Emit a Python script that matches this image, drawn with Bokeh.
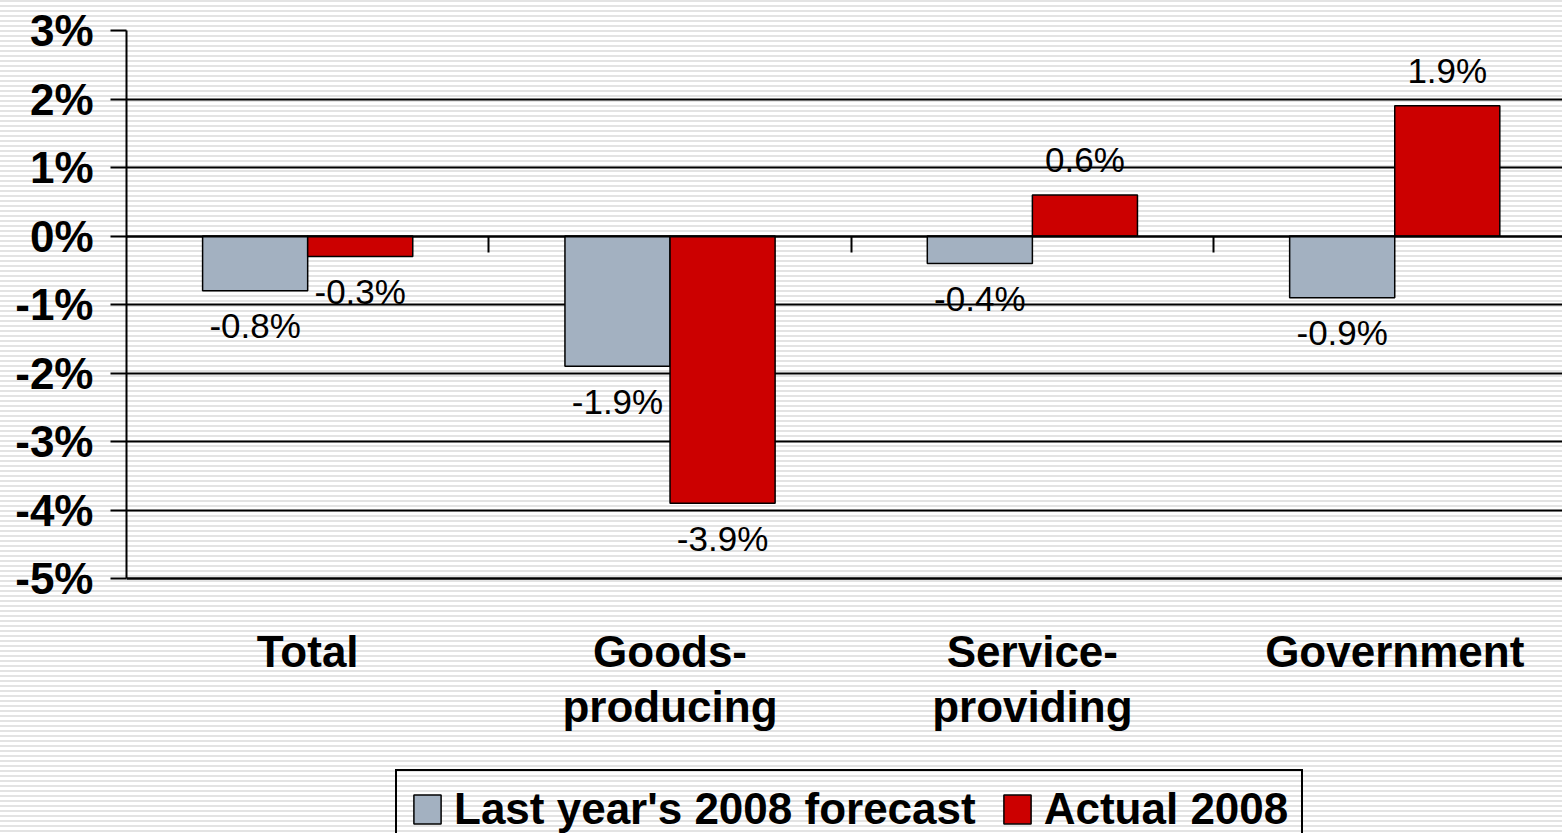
from bokeh.plotting import figure
from bokeh.models import (Range1d, FixedTicker, LinearAxis, Legend, LegendItem,
                          ColumnDataSource, Grid)
from bokeh.core.properties import value
from bokeh.embed import file_html
from bokeh.resources import INLINE

# ---- data ----
categories = ["Total", "Goods-\nproducing", "Service-\nproviding", "Government"]
forecast_2008 = [-0.8, -1.9, -0.4, -0.9]
actual_2008 = [-0.3, -3.9, 0.6, 1.9]
y_ticks = [-5, -4, -3, -2, -1, 0, 1, 2, 3]
y_tick_labels = ["-5%", "-4%", "-3%", "-2%", "-1%", "0%", "1%", "2%", "3%"]
series_names = ["Last year's 2008 forecast", "Actual 2008"]

GRAY = "#A3B1C1"
RED = "#CC0000"
FONT = "Liberation Sans"

n = len(categories)
centers = [i + 0.5 for i in range(n)]
bar_w = 0.29
y_min, y_max = y_ticks[0], y_ticks[-1]

# plot area: value axis spans 548 px (y 30..578); the frame continues down to the
# page bottom so that the category labels and the legend sit below the -5% line
px_per_unit = 548 / (y_max - y_min)
y_low = y_min - 255 / px_per_unit

src_f = ColumnDataSource(dict(x=[c - bar_w / 2 for c in centers], top=forecast_2008,
                              lab=[f"{v:.1f}%" for v in forecast_2008],
                              off=[35 if v < 0 else -35 for v in forecast_2008]))
src_a = ColumnDataSource(dict(x=[c + bar_w / 2 for c in centers], top=actual_2008,
                              lab=[f"{v:.1f}%" for v in actual_2008],
                              off=[35 if v < 0 else -35 for v in actual_2008]))

p = figure(width=1562, height=833, output_backend="svg", toolbar_location=None,
           x_range=Range1d(0, 3.963), y_range=Range1d(y_low, y_max),
           min_border_left=126, min_border_right=0, min_border_top=30,
           min_border_bottom=0, x_axis_type=None, y_axis_type=None)
p.styles = {"background": "repeating-linear-gradient(to bottom, #e3e3e3 0px, #e3e3e3 2px, #ffffff 2px, #ffffff 5px)"}
p.border_fill_color = None
p.background_fill_color = None
p.outline_line_color = None

# y axis
yax = LinearAxis(ticker=FixedTicker(ticks=y_ticks), bounds=(y_min, y_max),
                 major_label_overrides={t: l for t, l in zip(y_ticks, y_tick_labels)})
yax.axis_line_color = "black"
yax.axis_line_width = 2
yax.major_tick_line_color = "black"
yax.major_tick_line_width = 2
yax.major_tick_out = 16
yax.major_tick_in = 0
yax.minor_tick_line_color = None
yax.major_label_standoff = 17
yax.major_label_text_font = FONT
yax.major_label_text_font_style = "bold"
yax.major_label_text_font_size = "44px"
yax.major_label_text_color = "black"
p.add_layout(yax, "left")

# category axis (labels) at the bottom of the value area
xax = LinearAxis(ticker=FixedTicker(ticks=centers), fixed_location=y_min,
                 major_label_overrides={c: l for c, l in zip(centers, categories)})
xax.axis_line_color = "black"
xax.axis_line_width = 2
xax.major_tick_line_color = None
xax.minor_tick_line_color = None
xax.major_tick_out = 0
xax.major_tick_in = 0
xax.major_label_standoff = 48
xax.major_label_text_font = FONT
xax.major_label_text_font_style = "bold"
xax.major_label_text_font_size = "44px"
xax.major_label_text_color = "black"
xax.major_label_text_line_height = 1.13
p.add_layout(xax, "below")

# zero axis with category separator ticks (pointing down from the 0% line)
zax = LinearAxis(ticker=FixedTicker(ticks=list(range(1, n))), fixed_location=0)
zax.axis_line_color = "black"
zax.axis_line_width = 2
zax.major_tick_line_color = "black"
zax.major_tick_line_width = 2
zax.major_tick_out = 16
zax.major_tick_in = 0
zax.minor_tick_line_color = None
zax.major_label_text_color = None
zax.major_label_text_font_size = "1px"
zax.major_label_standoff = 0
p.add_layout(zax, "below")

# horizontal gridlines
g = Grid(dimension=1, ticker=FixedTicker(ticks=y_ticks))
g.grid_line_color = "black"
g.grid_line_width = 2
p.add_layout(g)

r1 = p.vbar(x="x", top="top", bottom=0, width=bar_w, source=src_f,
            fill_color=GRAY, line_color="black", line_width=1.5)
r2 = p.vbar(x="x", top="top", bottom=0, width=bar_w, source=src_a,
            fill_color=RED, line_color="black", line_width=1.5)

for s in (src_f, src_a):
    p.text(x="x", y="top", text="lab", y_offset="off", source=s,
           text_font=value(FONT), text_font_size="35px", text_color="black",
           text_align="center", text_baseline="middle")

leg = Legend(items=[LegendItem(label=series_names[0], renderers=[r1]),
                    LegendItem(label=series_names[1], renderers=[r2])],
             orientation="horizontal", location=(269, -16))
leg.label_text_font = FONT
leg.label_text_font_style = "bold"
leg.label_text_font_size = "44px"
leg.label_text_color = "black"
leg.glyph_width = 34
leg.glyph_height = 36
leg.label_standoff = 10
leg.spacing = 24
leg.padding = 13
leg.margin = 0
leg.border_line_color = "black"
leg.border_line_alpha = 1.0
leg.border_line_width = 2
leg.background_fill_alpha = 0
p.add_layout(leg, "center")

open("out.html", "w").write(file_html(p, INLINE))
